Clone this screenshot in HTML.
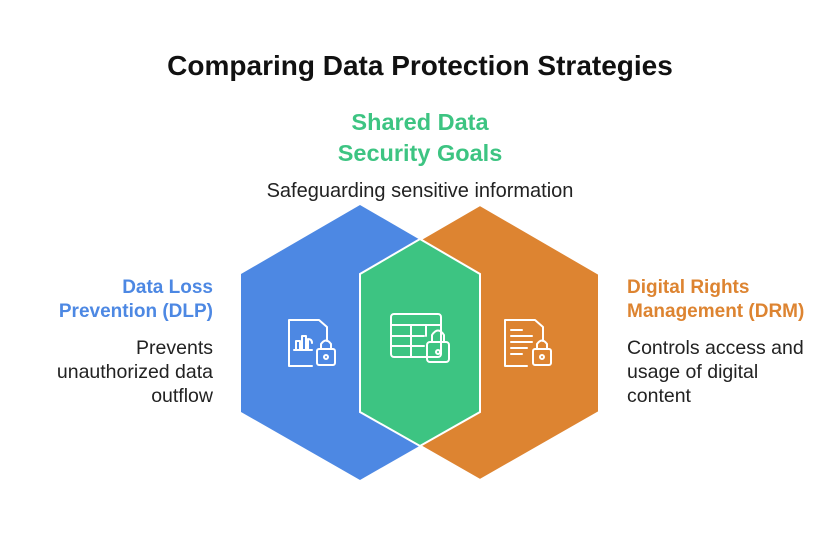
<!DOCTYPE html>
<html><head><meta charset="utf-8"><style>
body{margin:0;width:840px;height:540px;background:#fff;font-family:"Liberation Sans",sans-serif;position:relative;overflow:hidden}
.t{position:absolute;white-space:nowrap}
</style></head><body>
<div class="t" style="left:0;width:840px;text-align:center;top:50px;font-size:28px;font-weight:bold;color:#111">Comparing Data Protection Strategies</div>
<div class="t" style="left:0;width:840px;text-align:center;top:107px;font-size:23.5px;font-weight:bold;color:#3dc482;line-height:31px">Shared Data<br>Security Goals</div>
<div class="t" style="left:0;width:840px;text-align:center;top:180px;font-size:20px;color:#222">Safeguarding sensitive information</div>
<div class="t" style="right:627px;text-align:right;top:276px;font-size:19px;font-weight:bold;color:#4d88e3;line-height:24px">Data Loss<br>Prevention (DLP)</div>
<div class="t" style="right:627px;text-align:right;top:336px;font-size:19.5px;color:#222;line-height:24px">Prevents<br>unauthorized data<br>outflow</div>
<div class="t" style="left:627px;top:276px;font-size:19px;font-weight:bold;color:#dd8431;line-height:24px">Digital Rights<br>Management (DRM)</div>
<div class="t" style="left:627px;top:336px;font-size:19.5px;color:#222;line-height:24px">Controls access and<br>usage of digital<br>content</div>
<svg width="840" height="540" style="position:absolute;left:0;top:0">
<polygon points="360,205 479,274 479,412 360,480 241,412 241,274" fill="#4d88e3"/>
<polygon points="480,205 599,274 599,412 480,480 361,412 361,274" fill="#dd8431" stroke="#fff" stroke-width="2"/>
<polygon points="420,239 480,274 480,412 420,446 360,412 360,274" fill="#3dc482" stroke="#fff" stroke-width="2"/>
<g fill="none" stroke="#fff" stroke-width="2" stroke-linejoin="round" stroke-linecap="round">
<path d="M312,366 H289 V320 H319 L327,327 V341"/>
<path d="M296,350 V341 H300 V350 M302,350 V336 H306 V350 M308,350 V339 Q312,339 312,343 M294,350 H312"/>
<rect x="317" y="349" width="18" height="16" rx="2"/><path d="M321,349 V344 Q326,337 331,344 V349"/><circle cx="326" cy="357" r="2"/>
<rect x="391" y="314" width="50" height="43" rx="3"/><path d="M391,325 H441 M391,336 H424 M391,346 H424 M411,325 V357 M426,325 V336"/>
<rect x="427" y="342" width="22" height="20" rx="3"/><path d="M432,342 V335 Q438,326 444,335 V342"/><circle cx="438" cy="352" r="2"/>
<path d="M527,366 H505 V320 H535 L543,327 V341"/>
<path d="M511,330 H522 M511,336 H532 M511,342 H532 M511,348 H527 M511,354 H522"/>
<rect x="533" y="349" width="18" height="16" rx="2"/><path d="M537,349 V344 Q542,337 547,344 V349"/><circle cx="542" cy="357" r="2"/>
</g>
</svg>
</body></html>
